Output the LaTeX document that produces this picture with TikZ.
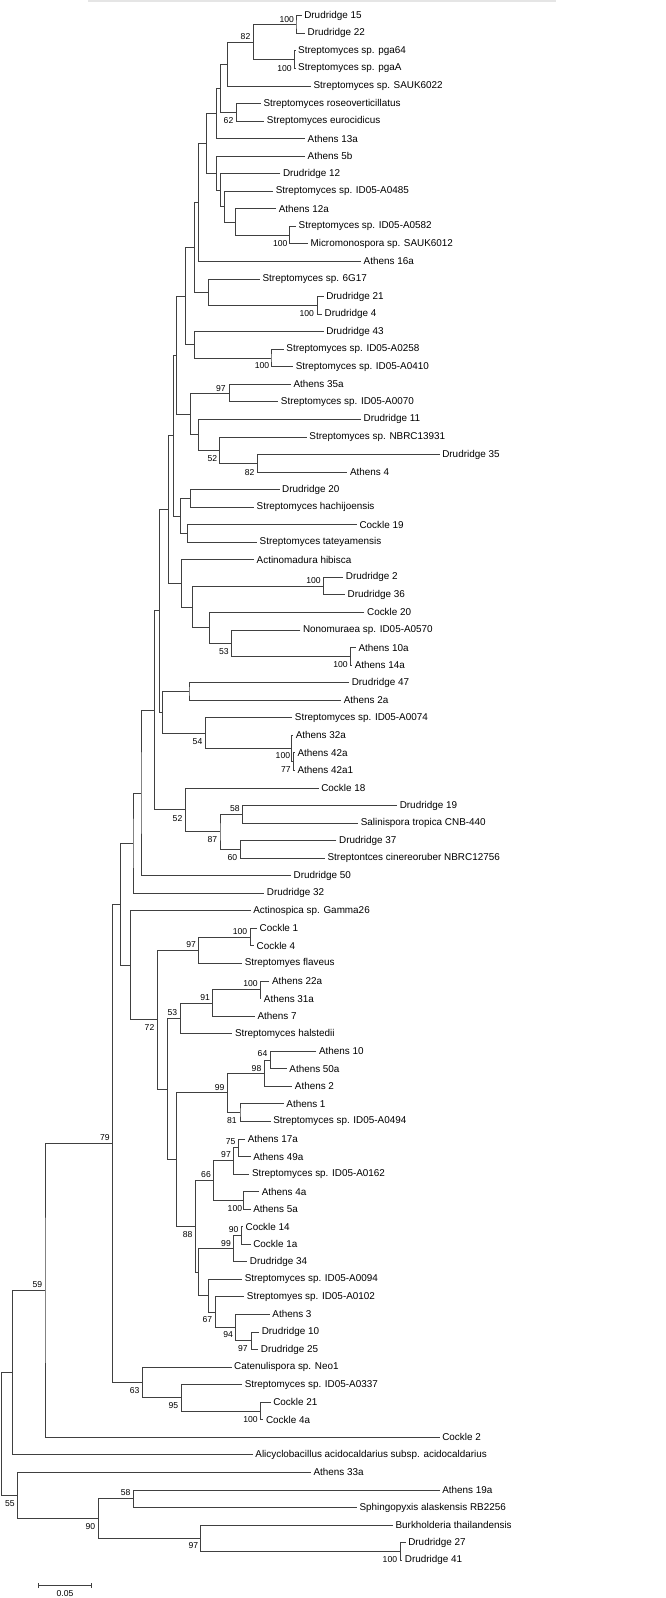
\documentclass[tikz,border=0pt]{standalone}
\usepackage{fontspec}
\setmainfont{Liberation Sans}
\usetikzlibrary{arrows.meta}
\tikzset{
  branch/.style={line width=.75pt,black!75},
  leaf/.style={anchor=west,inner xsep=2.5pt,inner ysep=0pt,font=\fontsize{9.9}{11}\selectfont},
  boot/.style={inner sep=0pt,font=\fontsize{8.6}{9}\selectfont},
  scalebar/.style={line width=.75pt,black!75,{Bar[width=5pt]}-{Bar[width=5pt]}}
}
\begin{document}
\begin{tikzpicture}[x=1pt,y=-1pt]
  \useasboundingbox (0,0) rectangle (666,1598);
  \fill[black!10] (88,0) rectangle (556,1.7);

  % leaves, top to bottom
  \foreach \x/\t [count=\i] in {
    301.6/Drudridge 15, 305.0/Drudridge 22, 295.5/Streptomyces sp. pga64,
    295.5/Streptomyces sp. pgaA, 310.9/Streptomyces sp. SAUK6022,
    260.8/Streptomyces roseoverticillatus, 264.2/Streptomyces eurocidicus,
    305.0/Athens 13a, 305.0/Athens 5b, 280.3/Drudridge 12,
    273.1/Streptomyces sp. ID05-A0485, 276.1/Athens 12a,
    296.0/Streptomyces sp. ID05-A0582, 307.9/Micromonospora sp. SAUK6012,
    361.0/Athens 16a, 259.9/Streptomyces sp. 6G17, 323.6/Drudridge 21,
    322.0/Drudridge 4, 323.6/Drudridge 43, 283.7/Streptomyces sp. ID05-A0258,
    293.1/Streptomyces sp. ID05-A0410, 290.9/Athens 35a,
    278.2/Streptomyces sp. ID05-A0070, 361.0/Drudridge 11,
    306.7/Streptomyces sp. NBRC13931, 439.6/Drudridge 35, 347.4/Athens 4,
    279.5/Drudridge 20, 254.0/Streptomyces hachijoensis, 356.8/Cockle 19,
    257.0/Streptomyces tateyamensis, 254.0/Actinomadura hibisca,
    343.2/Drudridge 2, 344.9/Drudridge 36, 364.4/Cockle 20,
    300.3/Nonomuraea sp. ID05-A0570, 355.9/Athens 10a, 352.1/Athens 14a,
    349.1/Drudridge 47, 341.1/Athens 2a, 292.2/Streptomyces sp. ID05-A0074,
    293.1/Athens 32a, 294.8/Athens 42a, 294.8/Athens 42a1, 318.6/Cockle 18,
    397.1/Drudridge 19, 358.1/Salinispora tropica CNB-440, 336.4/Drudridge 37,
    324.9/Streptontces cinereoruber NBRC12756, 290.9/Drudridge 50,
    264.2/Drudridge 32, 250.6/Actinospica sp. Gamma26, 257.0/Cockle 1,
    254.0/Cockle 4, 242.1/Streptomyes flaveus, 269.3/Athens 22a,
    261.2/Athens 31a, 254.8/Athens 7, 232.3/Streptomyces halstedii,
    316.4/Athens 10, 286.7/Athens 50a, 292.2/Athens 2, 283.7/Athens 1,
    270.6/Streptomyces sp. ID05-A0494, 245.1/Athens 17a, 250.6/Athens 49a,
    249.3/Streptomyces sp. ID05-A0162, 259.1/Athens 4a, 250.6/Athens 5a,
    242.9/Cockle 14, 250.6/Cockle 1a, 247.2/Drudridge 34,
    242.1/Streptomyces sp. ID05-A0094, 244.2/Streptomyes sp. ID05-A0102,
    269.7/Athens 3, 259.1/Drudridge 10, 258.2/Drudridge 25,
    231.5/Catenulispora sp. Neo1, 242.1/Streptomyces sp. ID05-A0337,
    270.6/Cockle 21, 263.3/Cockle 4a, 439.6/Cockle 2,
    252.7/Alicyclobacillus acidocaldarius subsp. acidocaldarius,
    310.9/Athens 33a, 439.6/Athens 19a, 356.8/Sphingopyxis alaskensis RB2256,
    392.9/Burkholderia thailandensis, 405.6/Drudridge 27, 402.2/Drudridge 41}
    \node[leaf] (l\i) at (\x,{15.7+(\i-1)*17.55}) {\t};

  % inner nodes
  \coordinate (A) at (296.0,24.48);   \coordinate (B) at (293.9,59.58);
  \coordinate (C) at (253.1,42.03);   \coordinate (D) at (227.7,63.97);
  \coordinate (E) at (236.2,112.23);  \coordinate (F) at (220.4,88.10);
  \coordinate (G) at (216.6,113.33);  \coordinate (M) at (289.7,235.08);
  \coordinate (L) at (234.9,221.92);  \coordinate (K) at (224.7,206.56);
  \coordinate (J) at (220.4,190.11);  \coordinate (I) at (216.6,173.11);
  \coordinate (H) at (206.4,143.22);  \coordinate (N) at (198.8,202.31);
  \coordinate (Q) at (317.7,305.28);  \coordinate (P) at (208.5,292.12);
  \coordinate (O) at (194.3,247.22);  \coordinate (R) at (271.0,357.93);
  \coordinate (S) at (194.5,344.77);  \coordinate (T) at (185.7,296.00);
  \coordinate (W) at (229.4,393.03);  \coordinate (Z) at (257.8,463.23);
  \coordinate (V) at (219.6,450.07);  \coordinate (Y) at (198.8,434.71);
  \coordinate (X) at (190.3,413.87);  \coordinate (U) at (176.7,354.94);
  \coordinate (AA) at (190.3,498.33); \coordinate (AB) at (186.9,533.43);
  \coordinate (AC) at (180.1,515.88); \coordinate (AD) at (172.9,435.41);
  \coordinate (AF) at (323.6,586.08); \coordinate (AG) at (350.4,656.28);
  \coordinate (AH) at (231.5,643.12); \coordinate (AI) at (209.4,627.76);
  \coordinate (AJ) at (192.4,606.92); \coordinate (AK) at (181.8,583.34);
  \coordinate (AE) at (168.6,509.38); \coordinate (AL) at (189.0,691.38);
  \coordinate (AM) at (293.5,761.58); \coordinate (AN) at (291.4,748.42);
  \coordinate (AO) at (205.6,733.06); \coordinate (AP) at (162.7,712.22);
  \coordinate (AQ) at (159.7,610.80); \coordinate (AR) at (242.1,814.23);
  \coordinate (AS) at (240.4,849.33); \coordinate (AT) at (220.0,831.78);
  \coordinate (AU) at (185.6,809.84); \coordinate (AV) at (154.2,710.32);
  \coordinate (AW) at (141.0,792.99); \coordinate (AX) at (133.0,843.10);
  \coordinate (BA) at (250.6,937.08); \coordinate (BB) at (198.3,950.24);
  \coordinate (BC) at (259.9,989.73); \coordinate (BD) at (212.4,1002.89);
  \coordinate (BE) at (180.5,1018.25);\coordinate (BI) at (270.1,1059.93);
  \coordinate (BJ) at (264.6,1073.09);\coordinate (BK) at (240.0,1112.58);
  \coordinate (BL) at (227.2,1092.84);\coordinate (BM) at (238.7,1147.68);
  \coordinate (BN) at (233.6,1160.84);\coordinate (BO) at (243.4,1200.33);
  \coordinate (BP) at (213.2,1180.59);\coordinate (BQ) at (241.3,1235.43);
  \coordinate (BR) at (233.6,1248.59);\coordinate (BS) at (251.4,1340.73);
  \coordinate (BT) at (235.7,1327.57);\coordinate (BU) at (215.8,1312.21);
  \coordinate (BV) at (208.1,1295.76);\coordinate (BW) at (198.8,1272.18);
  \coordinate (BX) at (195.4,1226.39);\coordinate (BY) at (176.3,1159.62);
  \coordinate (BG) at (167.8,1088.94);\coordinate (BF) at (157.2,1019.59);
  \coordinate (BZ) at (130.8,965.17); \coordinate (AY) at (120.2,904.14);
  \coordinate (CA) at (259.9,1410.93);\coordinate (CB) at (181.4,1397.77);
  \coordinate (CC) at (142.3,1382.41);\coordinate (CD) at (112.1,1143.28);
  \coordinate (CE) at (45.0,1290.27); \coordinate (CF) at (12.7,1372.54);
  \coordinate (CG) at (133.8,1498.68);\coordinate (CH) at (400.5,1551.33);
  \coordinate (CI) at (200.5,1538.17);\coordinate (CJ) at (98.5,1518.43);
  \coordinate (CK) at (17.4,1495.39); \coordinate (root) at (1.3,1433.97);

  % branches: parent/upper child/lower child
  \foreach \p/\a/\b in {A/l1/l2, B/l3/l4, C/A/B, D/C/l5, E/l6/l7, F/D/E,
    G/F/l8, M/l13/l14, L/l12/M, K/l11/L, J/l10/K, I/l9/J, H/G/I, N/H/l15,
    Q/l17/l18, P/l16/Q, O/N/P, R/l20/l21, S/l19/R, T/O/S, W/l22/l23,
    Z/l26/l27, V/l25/Z, Y/l24/V, X/W/Y, U/T/X, AA/l28/l29, AB/l30/l31,
    AC/AA/AB, AD/U/AC, AF/l33/l34, AG/l37/l38, AH/l36/AG, AI/l35/AH,
    AJ/AF/AI, AK/l32/AJ, AE/AD/AK, AL/l39/l40, AM/l43/l44, AN/l42/AM,
    AO/l41/AN, AP/AL/AO, AQ/AE/AP, AR/l46/l47, AS/l48/l49, AT/AR/AS,
    AU/l45/AT, AV/AQ/AU, AW/AV/l50, AX/AW/l51, BA/l53/l54, BB/BA/l55,
    BC/l56/l57, BD/BC/l58, BE/BD/l59, BI/l60/l61, BJ/BI/l62, BK/l63/l64,
    BL/BJ/BK, BM/l65/l66, BN/BM/l67, BO/l68/l69, BP/BN/BO, BQ/l70/l71,
    BR/BQ/l72, BS/l76/l77, BT/l75/BS, BU/l74/BT, BV/l73/BU, BW/BR/BV,
    BX/BP/BW, BY/BL/BX, BG/BE/BY, BF/BB/BG, BZ/l52/BF, AY/AX/BZ,
    CA/l80/l81, CB/l79/CA, CC/l78/CB, CD/AY/CC, CE/CD/l82, CF/CE/l83,
    CG/l85/l86, CH/l88/l89, CI/l87/CH, CJ/CG/CI, CK/l84/CJ, root/CF/CK}
    \draw[branch] (\a) -| (\p) |- (\b);

  % bootstrap values
  \foreach \x/\y/\v [count=\k] in {286.7/19.3/100, 284.6/68.3/100,
    245.5/36.7/82, 228.5/120.7/62, 280.3/244.0/100, 306.7/314.0/100,
    262.1/366.0/100, 220.9/388.3/97, 212.4/459.0/52, 249.7/472.3/82,
    313.5/581.0/100, 223.8/651.7/53, 340.6/665.0/100, 197.5/741.7/54,
    282.9/756.0/100, 285.8/770.0/77, 177.5/818.3/52, 234.9/808.3/58,
    212.4/840.0/87, 232.3/857.3/60, 240.0/931.7/100, 191.1/944.3/97,
    250.6/983.3/100, 205.1/997.3/91, 172.4/1012.7/53, 149.5/1027.7/72,
    262.5/1054.0/64, 256.5/1068.3/98, 219.6/1087.3/99, 231.9/1120.7/81,
    230.6/1141.7/75, 226.0/1155.0/97, 206.0/1175.0/66, 234.9/1208.3/100,
    187.7/1235.0/88, 233.6/1230.0/90, 226.0/1243.3/99, 207.3/1320.0/67,
    228.1/1335.0/94, 242.9/1349.0/97, 134.6/1390.7/63, 173.3/1405.7/95,
    250.6/1419.3/100, 104.9/1137.3/79, 37.4/1285.0/59, 125.7/1492.7/58,
    9.8/1503.3/55, 90.5/1526.7/90, 193.3/1545.7/97, 389.9/1559.3/100}
    \node[boot] (b\k) at (\x,\y) {\v};

  % scale
  \coordinate (s0) at (38.2,1585.7);
  \coordinate (s1) at (91.3,1585.7);
  \draw[scalebar] (s0) -- (s1);
  \node[boot] (sl) at (65,1593.3) {0.05};
\end{tikzpicture}
\end{document}
